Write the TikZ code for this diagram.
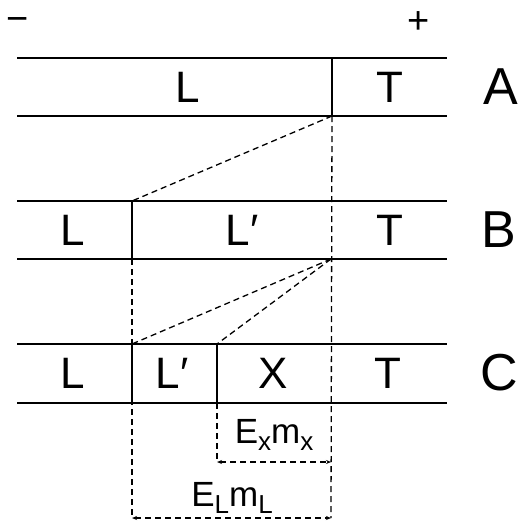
\documentclass[tikz,border=0pt]{standalone}
\usepackage{fontspec}
\setmainfont{Liberation Sans}
\usetikzlibrary{arrows.meta}
\newcommand{\sbx}[1]{\raisebox{-7pt}{\fontsize{26}{26}\selectfont #1}}
\begin{document}
\begin{tikzpicture}[x=1pt,y=-1pt,
  band/.style={line width=2.8pt},
  wall/.style={line width=1.5pt},
  dsh/.style={line width=1.3pt,dash pattern=on 6pt off 4pt},
  dim/.style={dsh,{Stealth[length=5pt,width=4pt,open]}-{Stealth[length=5pt,width=4pt,open]}},
  lab/.style={inner sep=0pt,font=\fontsize{44}{44}\selectfont},
  rowlab/.style={inner sep=0pt,font=\fontsize{52}{52}\selectfont},
  sign/.style={inner sep=0pt,font=\fontsize{38}{38}\selectfont},
  elab/.style={inner sep=0pt,font=\fontsize{35}{35}\selectfont}]
\useasboundingbox (0,0) rectangle (530,523);
% signs
\node[sign] (minus) at (18,25) {−};
\node[sign] (plus) at (419,23) {+};
% row coordinates
\coordinate (A1l) at (17,58);  \coordinate (A1r) at (447,58);
\coordinate (A2l) at (17,116); \coordinate (A2r) at (447,116);
\coordinate (B1l) at (17,201); \coordinate (B1r) at (447,201);
\coordinate (B2l) at (17,259); \coordinate (B2r) at (447,259);
\coordinate (C1l) at (17,344); \coordinate (C1r) at (447,344);
\coordinate (C2l) at (17,403); \coordinate (C2r) at (447,403);
\draw[band] (A1l) -- (A1r); \draw[band] (A2l) -- (A2r);
\draw[band] (B1l) -- (B1r); \draw[band] (B2l) -- (B2r);
\draw[band] (C1l) -- (C1r); \draw[band] (C2l) -- (C2r);
% walls
\coordinate (At) at (332,58); \coordinate (Ab) at (332,116);
\coordinate (Bt) at (132,201); \coordinate (Bb) at (132,259);
\coordinate (BTt) at (331,201); \coordinate (BTb) at (331,259);
\coordinate (Ct1) at (132,344); \coordinate (Cb1) at (132,403);
\coordinate (Ct2) at (217,344); \coordinate (Cb2) at (217,403);
\draw[wall] (At) -- (Ab);
\draw[wall] (Bt) -- (Bb);
\draw[wall] (Ct1) -- (Cb1);
\draw[wall] (Ct2) -- (Cb2);
% dashed construction
\coordinate (R1) at (331,462); \coordinate (R2) at (331,518);
\coordinate (X1) at (217,462);
\coordinate (L1) at (132,518);
\draw[dsh] (Ab) -- (R2);
\draw[dsh] (Ab) -- (Bt);
\draw[dsh] (Bb) -- (L1);
\draw[dsh] (BTb) -- (Ct1);
\draw[dsh] (BTb) -- (Ct2);
\draw[dsh] (Cb2) -- (X1);
\draw[dim] (X1) -- (R1);
\draw[dim] (L1) -- (R2);
% labels
\node[lab] (aL) at (188,87) {L};
\node[lab] (aT) at (390,87) {T};
\node[rowlab] (rA) at (501,87) {A};
\node[lab] (bL) at (73,230) {L};
\node[lab] (bLp) at (242,230) {L′};
\node[lab] (bT) at (390,230) {T};
\node[rowlab] (rB) at (499,230) {B};
\node[lab] (cL) at (73,373) {L};
\node[lab] (cLp) at (172,373) {L′};
\node[lab] (cX) at (273,373) {X};
\node[lab] (cT) at (388,373) {T};
\node[rowlab] (rC) at (499,373) {C};
\node[elab,anchor=base] (ex) at (274,443) {E\sbx{x}m\sbx{x}};
\node[elab,anchor=base] (el) at (232,506) {E\sbx{L}m\sbx{L}};
\end{tikzpicture}
\end{document}
